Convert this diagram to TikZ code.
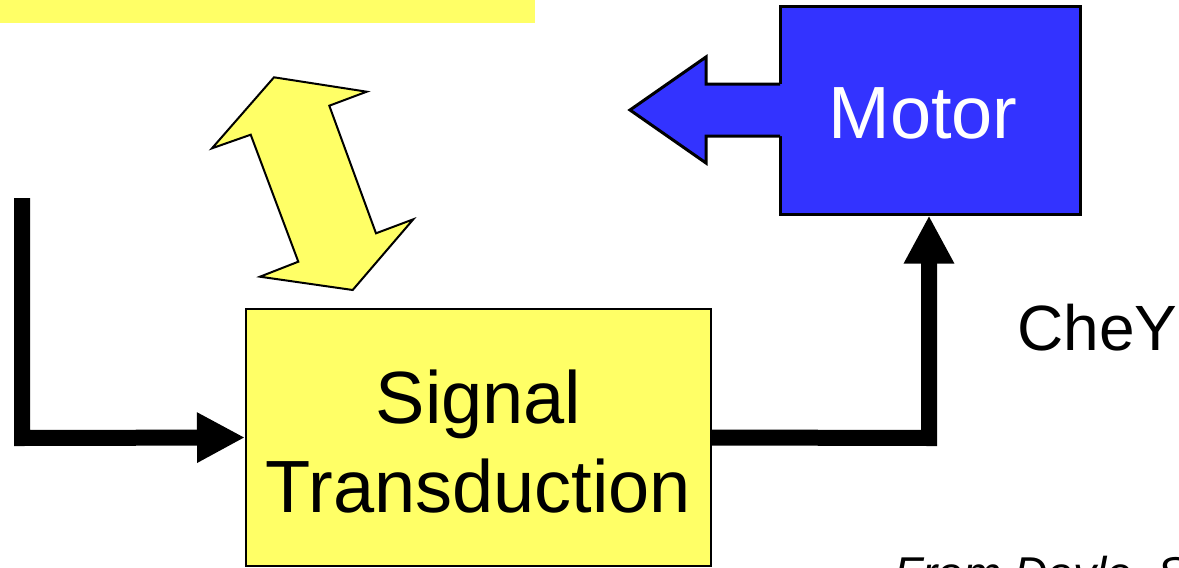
\documentclass[tikz,border=0pt]{standalone}
\usepackage{fontspec}
\setmainfont{Liberation Sans}
\usetikzlibrary{arrows.meta}
\definecolor{ylw}{HTML}{FFFF66}
\definecolor{blu}{HTML}{3333FF}
\begin{document}
\begin{tikzpicture}[x=1pt,y=-1pt,
  bigtext/.style={font=\fontsize{74}{89}\selectfont, inner sep=0pt},
  flow/.style={line width=16pt, line join=miter, -{Triangle[length=48pt,width=47pt]}},
  ybox/.style={draw=black, line width=2pt, fill=ylw, minimum width=465pt, minimum height=257pt, inner sep=0pt},
  mbox/.style={draw=black, line width=3pt, fill=blu, minimum width=300pt, minimum height=208pt, inner sep=0pt}]
\useasboundingbox (0,0) rectangle (1179,568);
\clip (0,0) rectangle (1179,568);
% top yellow bar
\fill[ylw] (0,0) rectangle (535,23);
% double arrow
\draw[fill=ylw, line width=2pt, line join=miter]
  (274,77.3) -- (366.7,91.7) -- (329.3,105.7) -- (376,233.3) -- (413.3,219.3)
  -- (352.7,290) -- (260,276.7) -- (298.3,261.7) -- (250.7,134.7) -- (212,148.3) -- cycle;
% boxes
\node[ybox] (sig) at (478.5,437.5) {};
\node[bigtext, anchor=base] (sigA) at (478.5,423) {Signal};
\node[bigtext, anchor=base] (sigB) at (478.5,512) {Transduction};
\node[mbox] (motor) at (930,110) {};
% motor output arrow
\fill[blu] (782,84) -- (706,84) -- (706,57) -- (630,110) -- (706,163) -- (706,136) -- (782,136) -- cycle;
\draw[line width=3pt, line join=miter] (780,84) -- (706,84) -- (706,57) -- (630,110) -- (706,163) -- (706,136) -- (780,136);
\node[bigtext, text=white, anchor=base] (mtxt) at (923,138) {Motor};
% connectors
\coordinate (start) at (22,198);
\coordinate (bendL) at (22,438);
\coordinate (bendR) at (929,438);
\draw[flow] (start) -- (bendL) -- (sig.west);
\draw[flow] (sig.east) -- (bendR) -- (motor.south -| bendR);
% labels
\node[font=\fontsize{64}{76}\selectfont, inner sep=0pt, anchor=base west] (chey) at (1017,350) {CheY};
\node[font=\fontsize{46}{55}\selectfont\itshape, inner sep=0pt, anchor=base west] (src) at (894,589) {From Doyle, S};
\end{tikzpicture}
\end{document}
